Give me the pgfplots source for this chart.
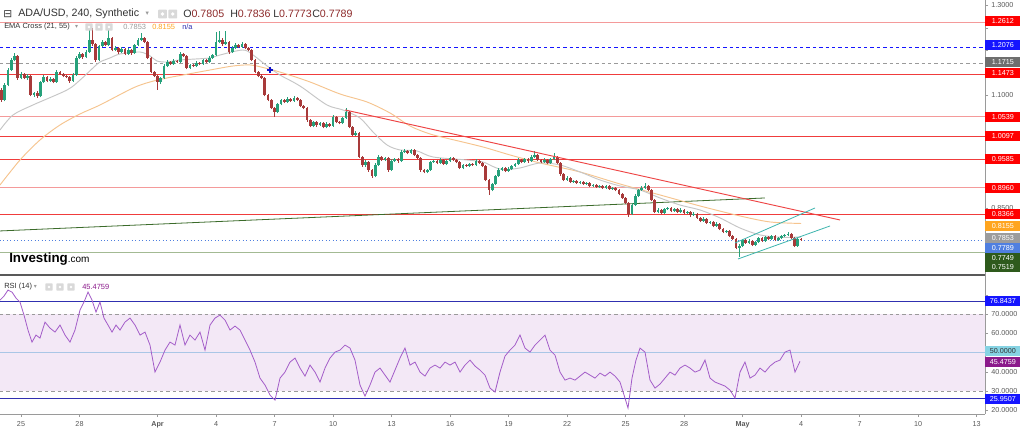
\documentclass[border=0pt]{standalone}
\usepackage{pgfplots}
\pgfplotsset{compat=1.18}
\usepackage{pgfplotstable}
\usepackage{fontspec}
\setmainfont{Liberation Sans}
\newfontfamily\dejavu{DejaVu Sans}
\definecolor{upc}{HTML}{26A17B}
\definecolor{dnc}{HTML}{A83A3A}
\definecolor{emaA}{HTML}{C6C6C6}
\definecolor{emaB}{HTML}{F6C48E}
\definecolor{lred}{HTML}{F03C3C}
\definecolor{lpink}{HTML}{F49A9A}
\definecolor{trendred}{HTML}{EE4444}
\definecolor{dgreen}{HTML}{3B6B2A}
\definecolor{chan}{HTML}{3DB5AE}
\definecolor{lgreen}{HTML}{A3BA93}
\definecolor{rsiline}{HTML}{A35CC8}
\definecolor{rsifill}{HTML}{F3E8F6}
\definecolor{rsiblue}{HTML}{3030B0}
\definecolor{midl}{HTML}{A9C6E6}
\definecolor{numred}{HTML}{8E2C2C}
\definecolor{axgray}{HTML}{9A9A9A}
\definecolor{tickgray}{HTML}{5A5A5A}
\definecolor{txt}{HTML}{333333}
\definecolor{iconbg}{HTML}{D9D9D9}
\definecolor{bxblue}{HTML}{1515FF}
\definecolor{bxgray}{HTML}{6E6E6E}
\definecolor{bxorange}{HTML}{FFA51F}
\definecolor{bxlgray}{HTML}{9C9C9C}
\definecolor{bxroyal}{HTML}{4F7FE0}
\definecolor{bxgreen}{HTML}{2E5A1C}
\definecolor{bxcyan}{HTML}{86D3E3}
\definecolor{bxpurple}{HTML}{8B1A8B}
\newcommand{\lab}{\fontsize{5.4}{6}\selectfont}
\newcommand{\ttl}{\fontsize{8}{9}\selectfont}
\newcommand{\sml}{\fontsize{5.6}{6.5}\selectfont}
\newcommand{\plab}[3]{\node[anchor=west, fill=#2, text=white, font=\lab, inner sep=0pt, minimum width=26.25pt, minimum height=7.6pt] at (axis cs:49.436,#1) {#3};}

\pgfplotstableread{
t o h l c
-1.000 1.1122 1.1160 1.0860 1.0900
-0.833 1.0900 1.1270 1.0870 1.1233
-0.667 1.1233 1.1600 1.1200 1.1566
-0.500 1.1566 1.1830 1.1540 1.1789
-0.333 1.1789 1.1950 1.1760 1.1878
-0.167 1.1878 1.1900 1.1350 1.1389
0.000 1.1389 1.1520 1.1360 1.1478
0.167 1.1478 1.1500 1.1360 1.1389
0.333 1.1389 1.1470 1.1350 1.1433
0.500 1.1433 1.1460 1.0980 1.1011
0.667 1.1011 1.1080 1.0970 1.1055
0.833 1.1055 1.1090 1.0950 1.0989
1.000 1.0989 1.1330 1.0960 1.1300
1.167 1.1300 1.1450 1.1270 1.1411
1.333 1.1411 1.1440 1.1290 1.1322
1.500 1.1322 1.1400 1.1300 1.1366
1.667 1.1366 1.1390 1.1270 1.1300
1.833 1.1300 1.1560 1.1280 1.1522
2.000 1.1522 1.1550 1.1450 1.1478
2.167 1.1478 1.1500 1.1400 1.1433
2.333 1.1433 1.1460 1.1380 1.1411
2.500 1.1411 1.1430 1.1280 1.1322
2.667 1.1322 1.1490 1.1300 1.1455
2.833 1.1455 1.1870 1.1430 1.1833
3.000 1.1833 1.1960 1.1800 1.1922
3.167 1.1922 1.1950 1.1820 1.1855
3.333 1.1855 1.2000 1.1830 1.1966
3.500 1.1966 1.2455 1.1940 1.2233
3.667 1.2233 1.2500 1.2110 1.2144
3.833 1.2144 1.2170 1.1750 1.1789
4.000 1.1789 1.2130 1.1760 1.2100
4.167 1.2100 1.2230 1.2070 1.2189
4.333 1.2189 1.2220 1.2090 1.2122
4.500 1.2122 1.2455 1.2100 1.2278
4.667 1.2278 1.2310 1.1980 1.2011
4.833 1.2011 1.2090 1.1980 1.2055
5.000 1.2055 1.2080 1.1930 1.1966
5.167 1.1966 1.2070 1.1940 1.2033
5.333 1.2033 1.2060 1.1890 1.1922
5.500 1.1922 1.2050 1.1900 1.2011
5.667 1.2011 1.2040 1.1910 1.1944
5.833 1.1944 1.2150 1.1920 1.2122
6.000 1.2122 1.2270 1.2100 1.2233
6.167 1.2233 1.2389 1.2200 1.2278
6.333 1.2278 1.2310 1.2160 1.2189
6.500 1.2189 1.2210 1.1800 1.1833
6.667 1.1833 1.1860 1.1490 1.1522
6.833 1.1522 1.1550 1.1400 1.1433
7.000 1.1433 1.1460 1.1122 1.1300
7.167 1.1300 1.1420 1.1250 1.1389
7.333 1.1389 1.1690 1.1360 1.1655
7.500 1.1655 1.1780 1.1630 1.1744
7.667 1.1744 1.1770 1.1670 1.1700
7.833 1.1700 1.1800 1.1680 1.1766
8.000 1.1766 1.1790 1.1720 1.1744
8.167 1.1744 1.1960 1.1720 1.1922
8.333 1.1922 1.1950 1.1850 1.1878
8.500 1.1878 1.1900 1.1580 1.1611
8.667 1.1611 1.1710 1.1590 1.1678
8.833 1.1678 1.1700 1.1630 1.1655
9.000 1.1655 1.1760 1.1630 1.1722
9.167 1.1722 1.1750 1.1670 1.1700
9.333 1.1700 1.1820 1.1680 1.1789
9.500 1.1789 1.1810 1.1720 1.1744
9.667 1.1744 1.1870 1.1720 1.1833
9.833 1.1833 1.1930 1.1810 1.1900
10.000 1.1900 1.2411 1.1880 1.2189
10.167 1.2189 1.2433 1.2160 1.2233
10.333 1.2233 1.2270 1.2110 1.2144
10.500 1.2144 1.2433 1.2120 1.2189
10.667 1.2189 1.2220 1.1930 1.1966
10.833 1.1966 1.2090 1.1940 1.2055
11.000 1.2055 1.2160 1.2030 1.2122
11.167 1.2122 1.2150 1.2050 1.2078
11.333 1.2078 1.2180 1.2050 1.2144
11.500 1.2144 1.2170 1.2030 1.2055
11.667 1.2055 1.2080 1.1980 1.2011
11.833 1.2011 1.2040 1.1760 1.1789
12.000 1.1789 1.1810 1.1490 1.1522
12.167 1.1522 1.1550 1.1400 1.1433
12.333 1.1433 1.1470 1.1360 1.1389
12.500 1.1389 1.1410 1.0980 1.1011
12.667 1.1011 1.1040 1.0870 1.0900
12.833 1.0900 1.0930 1.0690 1.0722
13.000 1.0722 1.0750 1.0522 1.0633
13.167 1.0633 1.0840 1.0600 1.0811
13.333 1.0811 1.0930 1.0780 1.0900
13.500 1.0900 1.0930 1.0830 1.0855
13.667 1.0855 1.0960 1.0830 1.0922
13.833 1.0922 1.0950 1.0850 1.0878
14.000 1.0878 1.0980 1.0850 1.0944
14.167 1.0944 1.0970 1.0870 1.0900
14.333 1.0900 1.0930 1.0740 1.0766
14.500 1.0766 1.0790 1.0690 1.0722
14.667 1.0722 1.0750 1.0420 1.0455
14.833 1.0455 1.0480 1.0290 1.0322
15.000 1.0322 1.0440 1.0290 1.0411
15.167 1.0411 1.0440 1.0310 1.0344
15.333 1.0344 1.0420 1.0320 1.0389
15.500 1.0389 1.0410 1.0270 1.0300
15.667 1.0300 1.0400 1.0270 1.0366
15.833 1.0366 1.0390 1.0290 1.0322
16.000 1.0322 1.0560 1.0300 1.0522
16.167 1.0522 1.0550 1.0380 1.0411
16.333 1.0411 1.0440 1.0360 1.0389
16.500 1.0389 1.0530 1.0360 1.0500
16.667 1.0500 1.0722 1.0480 1.0633
16.833 1.0633 1.0660 1.0270 1.0300
17.000 1.0300 1.0330 1.0090 1.0122
17.167 1.0122 1.0200 1.0090 1.0166
17.333 1.0166 1.0190 0.9600 0.9633
17.500 0.9633 0.9660 0.9420 0.9455
17.667 0.9455 0.9560 0.9420 0.9522
17.833 0.9522 0.9550 0.9310 0.9344
18.000 0.9344 0.9370 0.9166 0.9211
18.167 0.9211 0.9490 0.9180 0.9455
18.333 0.9455 0.9670 0.9430 0.9633
18.500 0.9633 0.9660 0.9540 0.9566
18.667 0.9566 0.9640 0.9540 0.9611
18.833 0.9611 0.9640 0.9310 0.9344
19.000 0.9344 0.9580 0.9320 0.9544
19.167 0.9544 0.9620 0.9520 0.9589
19.333 0.9589 0.9610 0.9510 0.9544
19.500 0.9544 0.9780 0.9520 0.9744
19.667 0.9744 0.9800 0.9720 0.9766
19.833 0.9766 0.9790 0.9690 0.9722
20.000 0.9722 0.9820 0.9700 0.9789
20.167 0.9789 0.9810 0.9650 0.9678
20.333 0.9678 0.9700 0.9580 0.9611
20.500 0.9611 0.9640 0.9310 0.9344
20.667 0.9344 0.9370 0.9270 0.9300
20.833 0.9300 0.9370 0.9270 0.9344
21.000 0.9344 0.9550 0.9320 0.9522
21.167 0.9522 0.9570 0.9500 0.9544
21.333 0.9544 0.9570 0.9470 0.9500
21.500 0.9500 0.9600 0.9480 0.9566
21.667 0.9566 0.9590 0.9450 0.9478
21.833 0.9478 0.9570 0.9450 0.9544
22.000 0.9544 0.9640 0.9520 0.9611
22.167 0.9611 0.9640 0.9540 0.9566
22.333 0.9566 0.9590 0.9490 0.9522
22.500 0.9522 0.9550 0.9360 0.9389
22.667 0.9389 0.9480 0.9360 0.9455
22.833 0.9455 0.9480 0.9410 0.9433
23.000 0.9433 0.9510 0.9410 0.9478
23.167 0.9478 0.9500 0.9430 0.9455
23.333 0.9455 0.9580 0.9430 0.9544
23.500 0.9544 0.9570 0.9470 0.9500
23.667 0.9500 0.9530 0.9410 0.9433
23.833 0.9433 0.9460 0.9090 0.9122
24.000 0.9122 0.9150 0.8789 0.8900
24.167 0.8900 0.9060 0.8870 0.9033
24.333 0.9033 0.9240 0.9010 0.9211
24.500 0.9211 0.9380 0.9190 0.9344
24.667 0.9344 0.9420 0.9320 0.9389
24.833 0.9389 0.9410 0.9290 0.9322
25.000 0.9322 0.9400 0.9300 0.9366
25.167 0.9366 0.9460 0.9340 0.9433
25.333 0.9433 0.9510 0.9410 0.9478
25.500 0.9478 0.9600 0.9450 0.9566
25.667 0.9566 0.9590 0.9490 0.9522
25.833 0.9522 0.9620 0.9500 0.9589
26.000 0.9589 0.9610 0.9510 0.9544
26.167 0.9544 0.9670 0.9520 0.9633
26.333 0.9633 0.9766 0.9610 0.9678
26.500 0.9678 0.9700 0.9540 0.9566
26.667 0.9566 0.9590 0.9490 0.9522
26.833 0.9522 0.9600 0.9500 0.9566
27.000 0.9566 0.9590 0.9470 0.9500
27.167 0.9500 0.9620 0.9480 0.9589
27.333 0.9589 0.9722 0.9560 0.9633
27.500 0.9633 0.9660 0.9470 0.9500
27.667 0.9500 0.9530 0.9220 0.9255
27.833 0.9255 0.9280 0.9090 0.9122
28.000 0.9122 0.9200 0.9100 0.9166
28.167 0.9166 0.9190 0.9050 0.9078
28.333 0.9078 0.9130 0.9050 0.9100
28.500 0.9100 0.9130 0.9030 0.9055
28.667 0.9055 0.9110 0.9030 0.9078
28.833 0.9078 0.9100 0.9010 0.9033
29.000 0.9033 0.9080 0.9010 0.9055
29.167 0.9055 0.9080 0.8960 0.8989
29.333 0.8989 0.9040 0.8960 0.9011
29.500 0.9011 0.9040 0.8940 0.8966
29.667 0.8966 0.9010 0.8940 0.8989
29.833 0.8989 0.9010 0.8920 0.8944
30.000 0.8944 0.9020 0.8920 0.8989
30.167 0.8989 0.9010 0.8900 0.8922
30.333 0.8922 0.8970 0.8900 0.8944
30.500 0.8944 0.8970 0.8870 0.8900
30.667 0.8900 0.8920 0.8780 0.8811
30.833 0.8811 0.8840 0.8700 0.8722
31.000 0.8722 0.8750 0.8580 0.8611
31.167 0.8611 0.8640 0.8300 0.8366
31.333 0.8366 0.8600 0.8340 0.8566
31.500 0.8566 0.8800 0.8540 0.8766
31.667 0.8766 0.8930 0.8740 0.8900
31.833 0.8900 0.8980 0.8880 0.8944
32.000 0.8944 0.9055 0.8920 0.8989
32.167 0.8989 0.9010 0.8870 0.8900
32.333 0.8900 0.8920 0.8650 0.8678
32.500 0.8678 0.8700 0.8380 0.8411
32.667 0.8411 0.8490 0.8380 0.8455
32.833 0.8455 0.8480 0.8360 0.8389
33.000 0.8389 0.8510 0.8360 0.8478
33.167 0.8478 0.8530 0.8450 0.8500
33.333 0.8500 0.8520 0.8400 0.8433
33.500 0.8433 0.8510 0.8410 0.8478
33.667 0.8478 0.8500 0.8380 0.8411
33.833 0.8411 0.8490 0.8390 0.8455
34.000 0.8455 0.8480 0.8360 0.8389
34.167 0.8389 0.8440 0.8360 0.8411
34.333 0.8411 0.8440 0.8310 0.8344
34.500 0.8344 0.8400 0.8320 0.8366
34.667 0.8366 0.8390 0.8250 0.8278
34.833 0.8278 0.8300 0.8180 0.8211
35.000 0.8211 0.8290 0.8190 0.8255
35.167 0.8255 0.8280 0.8140 0.8166
35.333 0.8166 0.8220 0.8140 0.8189
35.500 0.8189 0.8210 0.8070 0.8100
35.667 0.8100 0.8180 0.8080 0.8144
35.833 0.8144 0.8170 0.8000 0.8033
36.000 0.8033 0.8060 0.7940 0.7966
36.167 0.7966 0.8020 0.7940 0.7989
36.333 0.7989 0.8010 0.7850 0.7878
36.500 0.7878 0.7900 0.7780 0.7811
36.667 0.7811 0.7840 0.7580 0.7611
36.833 0.7611 0.7690 0.7411 0.7655
37.000 0.7655 0.7820 0.7630 0.7789
37.167 0.7789 0.7810 0.7700 0.7722
37.333 0.7722 0.7800 0.7700 0.7766
37.500 0.7766 0.7790 0.7650 0.7678
37.667 0.7678 0.7770 0.7650 0.7744
37.833 0.7744 0.7860 0.7720 0.7833
38.000 0.7833 0.7860 0.7740 0.7766
38.167 0.7766 0.7880 0.7740 0.7855
38.333 0.7855 0.7880 0.7790 0.7811
38.500 0.7811 0.7900 0.7790 0.7878
38.667 0.7878 0.7900 0.7760 0.7789
38.833 0.7789 0.7860 0.7770 0.7833
39.000 0.7833 0.7900 0.7810 0.7878
39.167 0.7878 0.7930 0.7850 0.7900
39.333 0.7900 0.7966 0.7880 0.7922
39.500 0.7922 0.7950 0.7810 0.7833
39.667 0.7833 0.7860 0.7630 0.7655
39.833 0.7655 0.7830 0.7640 0.7805
40.000 0.7805 0.7836 0.7773 0.7789
}\candles

\pgfplotstableread{
t v
-1.077 77.27
-0.872 79.35
-0.667 82.47
-0.462 81.43
-0.256 78.31
-0.051 76.23
0.154 69.48
0.359 61.69
0.564 55.45
0.769 59.09
0.974 57.53
1.231 65.84
1.487 62.73
1.744 60.65
2.000 64.29
2.256 59.09
2.513 55.45
2.769 61.69
3.026 72.08
3.231 76.23
3.436 81.43
3.641 77.27
3.846 71.04
4.051 76.23
4.256 67.92
4.462 64.29
4.667 60.65
4.872 64.29
5.077 61.69
5.333 65.84
5.590 67.92
5.846 64.29
6.103 59.09
6.359 60.65
6.615 53.90
6.872 39.87
7.128 45.06
7.385 51.30
7.641 55.45
7.897 53.90
8.154 64.29
8.410 53.90
8.667 59.09
8.923 56.49
9.179 60.65
9.436 51.30
9.692 64.29
9.949 67.92
10.205 69.48
10.462 66.88
10.718 61.69
10.974 63.77
11.231 61.69
11.487 56.49
11.744 51.30
12.000 45.06
12.256 36.75
12.513 33.12
12.769 27.92
13.026 25.32
13.282 36.75
13.538 39.87
13.795 45.06
14.051 47.14
14.308 41.95
14.564 37.79
14.821 43.51
15.077 39.87
15.333 34.68
15.590 41.95
15.846 47.14
16.103 50.26
16.359 51.30
16.615 53.90
16.872 52.34
17.128 46.10
17.385 33.12
17.641 27.40
17.897 33.12
18.154 39.87
18.410 41.95
18.667 38.31
18.923 34.68
19.179 40.91
19.436 47.14
19.692 52.34
19.949 43.51
20.205 45.06
20.462 39.87
20.718 37.79
20.974 41.95
21.231 43.51
21.487 41.95
21.744 45.06
22.000 43.51
22.256 45.06
22.513 39.87
22.769 43.51
23.026 46.10
23.282 42.99
23.538 40.91
23.795 38.31
24.051 31.56
24.308 29.48
24.564 39.87
24.821 48.18
25.077 51.30
25.333 53.90
25.590 59.09
25.846 52.34
26.103 50.26
26.359 53.90
26.615 56.49
26.872 59.09
27.128 51.30
27.385 48.70
27.641 39.87
27.897 35.71
28.154 36.75
28.410 35.71
28.667 37.79
28.923 39.87
29.179 38.31
29.436 36.75
29.692 39.35
29.949 37.79
30.205 39.87
30.462 37.79
30.718 34.68
30.974 26.36
31.128 21.17
31.333 36.75
31.538 46.10
31.744 52.34
32.000 50.26
32.256 35.71
32.513 31.56
32.769 33.64
33.026 36.75
33.282 39.87
33.538 38.31
33.795 41.95
34.051 43.51
34.308 41.95
34.564 39.87
34.821 40.91
35.077 46.10
35.333 36.75
35.590 34.68
35.846 33.64
36.103 32.60
36.359 30.52
36.615 26.36
36.872 39.87
37.128 45.06
37.385 36.75
37.641 38.31
37.897 41.95
38.154 39.87
38.410 42.99
38.667 45.06
38.923 46.10
39.179 50.26
39.436 51.30
39.692 39.87
39.949 45.48
}\rsidata

\begin{document}
\begin{tikzpicture}
\path[use as bounding box, fill=white] (0pt,0pt) rectangle (768pt,321pt);

% ---------------- price panel ----------------
\begin{axis}[
  at={(0pt,114.75pt)}, anchor=south west,
  scale only axis, width=738.75pt, height=206.25pt,
  xmin=-1.077, xmax=49.436, ymin=0.7010, ymax=1.3122,
  axis x line=none, axis y line*=right,
  axis line style={axgray, line width=0.5pt},
  ytick={0.75,0.80,0.85,0.90,0.95,1.00,1.05,1.10,1.15,1.20,1.25,1.30},
  yticklabels={,,0.8500,,,,,1.1000,,,,1.3000},
  tick align=outside, major tick length=2.25pt,
  tick style={axgray, line width=0.4pt},
  yticklabel style={font=\lab, text=tickgray, xshift=-1pt},
  clip=false,
]
% horizontal levels
\addplot[lpink, line width=0.8pt] coordinates {(-1.077,1.2612) (49.436,1.2612)};
\addplot[bxblue, line width=0.6pt, dash pattern=on 2.6pt off 2.2pt] coordinates {(-1.077,1.2076) (49.436,1.2076)};
\addplot[axgray, line width=0.6pt, dash pattern=on 2.6pt off 2.2pt] coordinates {(-1.077,1.1715) (49.436,1.1715)};
\addplot[lred, line width=0.7pt] coordinates {(-1.077,1.1473) (49.436,1.1473)};
\addplot[lpink, line width=0.8pt] coordinates {(-1.077,1.0539) (49.436,1.0539)};
\addplot[lred, line width=0.7pt] coordinates {(-1.077,1.0097) (49.436,1.0097)};
\addplot[lred, line width=0.7pt] coordinates {(-1.077,0.9585) (49.436,0.9585)};
\addplot[lpink, line width=0.8pt] coordinates {(-1.077,0.8960) (49.436,0.8960)};
\addplot[lred, line width=0.6pt] coordinates {(-1.077,0.8366) (49.436,0.8366)};
\addplot[bxroyal, line width=0.6pt, dotted] coordinates {(-1.077,0.7789) (49.436,0.7789)};
\addplot[lgreen, line width=0.8pt] coordinates {(-1.077,0.7519) (49.436,0.7519)};
% long green trend line
\addplot[dgreen, line width=0.6pt] coordinates {(-1.077,0.7989) (38.15,0.8722)};
% EMA lines
\addplot[emaB, line width=0.7pt, smooth] coordinates {
(-1.077,0.9011) (-0.051,0.9566) (0.974,1.0011) (2.000,1.0344) (3.026,1.0589) (4.051,1.0789)
(5.744,1.1166) (6.615,1.1300) (7.487,1.1389) (8.308,1.1455) (9.692,1.1566) (10.872,1.1655)
(11.744,1.1678) (12.513,1.1611) (13.436,1.1500) (14.821,1.1300) (16.359,1.1033) (17.744,1.0855)
(18.923,1.0611) (19.949,1.0322) (20.974,1.0144) (22.000,1.0033) (23.692,0.9855) (25.077,0.9678)
(26.615,0.9500) (28.667,0.9300) (30.718,0.9033) (32.769,0.8789) (34.821,0.8544) (36.872,0.8322)
(38.410,0.8189) (40.000,0.8155)};
\addplot[emaA, line width=0.7pt, smooth] coordinates {
(-1.077,1.0233) (-0.41,1.0566) (0.615,1.0789) (2.36,1.1122) (3.03,1.1344) (3.69,1.1611) (4.05,1.1744)
(4.56,1.1833) (5.08,1.1922) (6.10,1.1966) (6.62,1.1878) (6.97,1.1766) (7.5,1.1744) (8.15,1.1789)
(9.69,1.1833) (10.21,1.1900) (11.38,1.2011) (11.90,1.1900) (12.62,1.1655) (13.28,1.1455)
(13.95,1.1300) (14.46,1.1166) (15.69,1.0789) (16.51,1.0677) (17.38,1.0500) (18.05,1.0189)
(18.77,0.9900) (19.44,0.9789) (20.31,0.9766) (21.13,0.9633) (22.87,0.9566) (23.69,0.9522)
(24.21,0.9420) (24.72,0.9350) (25.59,0.9389) (26.62,0.9500) (27.64,0.9455) (28.67,0.9300)
(29.69,0.9122) (30.72,0.8989) (31.74,0.8900) (32.77,0.8722) (33.79,0.8566) (34.82,0.8455)
(35.85,0.8278) (36.87,0.8055) (37.90,0.7900) (38.92,0.7850) (40.0,0.7853)};
% candles: wicks
\addplot[draw=none, mark=none, error bars/.cd, y dir=plus, y explicit, error mark=none,
  error bar style={draw=upc, line width=0.6pt}]
  table[x=t, y=l, y error plus expr={(\thisrow{c}>=\thisrow{o})*(\thisrow{h}-\thisrow{l})}] {\candles};
\addplot[draw=none, mark=none, error bars/.cd, y dir=plus, y explicit, error mark=none,
  error bar style={draw=dnc, line width=0.6pt}]
  table[x=t, y=l, y error plus expr={(\thisrow{c}<\thisrow{o})*(\thisrow{h}-\thisrow{l})}] {\candles};
% candles: bodies
\addplot[draw=none, mark=none, error bars/.cd, y dir=plus, y explicit, error mark=none,
  error bar style={draw=upc, line width=1.9pt}]
  table[x=t, y=o, y error plus expr={(\thisrow{c}>=\thisrow{o})*(\thisrow{c}-\thisrow{o})}] {\candles};
\addplot[draw=none, mark=none, error bars/.cd, y dir=plus, y explicit, error mark=none,
  error bar style={draw=dnc, line width=1.9pt}]
  table[x=t, y=c, y error plus expr={(\thisrow{c}<\thisrow{o})*(\thisrow{o}-\thisrow{c})}] {\candles};
% trend lines
\addplot[trendred, line width=0.7pt] coordinates {(16.62,1.0678) (42.0,0.8233)};
\addplot[chan, line width=0.6pt] coordinates {(36.77,0.7366) (41.49,0.8100)};
\addplot[chan, line width=0.6pt] coordinates {(36.62,0.7722) (40.72,0.8500)};
% EMA cross marker
\addplot[only marks, mark=+, mark size=2.4pt, bxblue!80!black, line width=1.1pt] coordinates {(12.77,1.1566)};
% right labels
\plab{1.2655}{red}{1.2612}
\plab{1.2122}{bxblue}{1.2076}
\plab{1.1744}{bxgray}{1.1715}
\plab{1.1500}{red}{1.1473}
\plab{1.0522}{red}{1.0539}
\plab{1.0100}{red}{1.0097}
\plab{0.9589}{red}{0.9585}
\plab{0.8944}{red}{0.8960}
\plab{0.8366}{red}{0.8366}
\plab{0.8100}{bxorange}{0.8155}
\plab{0.7833}{bxlgray}{0.7853}
\plab{0.7611}{bxroyal}{0.7789}
\plab{0.7389}{bxgreen}{0.7749}
\plab{0.7189}{bxgreen}{0.7519}
\end{axis}

% ---------------- RSI panel ----------------
\begin{axis}[
  at={(0pt,10.5pt)}, anchor=south west,
  scale only axis, width=738.75pt, height=104.25pt,
  xmin=-1.077, xmax=49.436, ymin=18.1, ymax=90.3,
  axis x line*=bottom, axis y line*=right,
  axis line style={axgray, line width=0.5pt},
  ytick={20,30,40,50,60,70,80},
  yticklabels={20.0000,30.0000,40.0000,,60.0000,70.0000,},
  xtick={0,3,7,10,13,16,19,22,25,28,31,34,37,40,43,46,49},
  xticklabels={25,28,\textbf{Apr},4,7,10,13,16,19,22,25,28,\textbf{May},4,7,10,13},
  tick align=outside, major tick length=2.25pt,
  tick style={axgray, line width=0.4pt},
  xticklabel style={font=\lab, text=tickgray},
  yticklabel style={font=\lab, text=tickgray, xshift=-1pt},
  clip=false,
]
\addplot[fill=rsifill, draw=none] coordinates {(-1.077,30) (49.436,30) (49.436,70) (-1.077,70)};
\addplot[axgray, line width=0.6pt, dash pattern=on 2.6pt off 2.2pt] coordinates {(-1.077,70) (49.436,70)};
\addplot[axgray, line width=0.6pt, dash pattern=on 2.6pt off 2.2pt] coordinates {(-1.077,30) (49.436,30)};
\addplot[midl, line width=0.7pt] coordinates {(-1.077,50) (49.436,50)};
\addplot[rsiblue, line width=0.6pt] coordinates {(-1.077,76.8437) (49.436,76.8437)};
\addplot[rsiblue, line width=0.6pt] coordinates {(-1.077,25.9507) (49.436,25.9507)};
\addplot[rsiline, line width=0.6pt] table[x=t, y=v] {\rsidata};
\node[anchor=west, fill=bxblue, text=white, font=\lab, inner sep=0pt, minimum width=26.25pt, minimum height=7.6pt] at (axis cs:49.436,76.75) {76.8437};
\node[anchor=west, fill=bxcyan, text=txt, font=\lab, inner sep=0pt, minimum width=26.25pt, minimum height=7.6pt] at (axis cs:49.436,50.6) {50.0000};
\node[anchor=west, fill=bxpurple, text=white, font=\lab, inner sep=0pt, minimum width=26.25pt, minimum height=7.6pt] at (axis cs:49.436,45.0) {45.4759};
\node[anchor=west, fill=bxblue, text=white, font=\lab, inner sep=0pt, minimum width=26.25pt, minimum height=7.6pt] at (axis cs:49.436,25.84) {25.9507};
\end{axis}

% separator between panels
\draw[black!65, line width=0.9pt] (0pt,114.75pt) -- (738.75pt,114.75pt);

% ---------------- header texts ----------------
\node[anchor=center, inner sep=0pt, text=txt] at (5.8pt,310.5pt) {\dejavu\fontsize{8}{9}\selectfont ⊟};
\node[anchor=west, inner sep=0pt, text=txt] at (13.5pt,310.5pt) {\ttl ADA/USD, 240, Synthetic};
\node[anchor=center, inner sep=0pt, text=axgray] at (110.5pt,310.5pt) {\dejavu\fontsize{5}{6}\selectfont ▾};
\node[fill=iconbg, minimum size=6.6pt, inner sep=0pt, rounded corners=0.6pt] at (121.9pt,310.5pt) {};
\fill[white] (121.9pt,310.5pt) circle (1.4pt);
\node[fill=iconbg, minimum size=6.6pt, inner sep=0pt, rounded corners=0.6pt] at (129.6pt,310.5pt) {};
\fill[white] (129.6pt,310.5pt) circle (1.4pt);
\node[anchor=west, inner sep=0pt] at (137.25pt,310.5pt) {\ttl\textcolor{txt}{O}\textcolor{numred}{0.7805}};
\node[anchor=west, inner sep=0pt] at (172.5pt,310.5pt) {\ttl\textcolor{txt}{H}\textcolor{numred}{0.7836}};
\node[anchor=west, inner sep=0pt] at (204.75pt,310.5pt) {\ttl\textcolor{txt}{L}\textcolor{numred}{0.7773}};
\node[anchor=west, inner sep=0pt] at (234pt,310.5pt) {\ttl\textcolor{txt}{C}\textcolor{numred}{0.7789}};

\node[anchor=west, inner sep=0pt, text=txt] at (3pt,300.75pt) {\sml EMA Cross (21, 55)};
\node[anchor=center, inner sep=0pt, text=axgray] at (57.5pt,300.75pt) {\dejavu\fontsize{4.5}{5}\selectfont ▾};
\foreach \ix in {66.75,74.25,81.75}{
  \node[fill=iconbg, minimum size=5.4pt, inner sep=0pt, rounded corners=0.5pt] at (\ix pt,300.75pt) {};
  \fill[white] (\ix pt,300.75pt) circle (1.1pt);
}
\node[anchor=west, inner sep=0pt, text=bxlgray] at (92.25pt,300.75pt) {\sml 0.7853};
\node[anchor=west, inner sep=0pt, text=bxorange] at (114pt,300.75pt) {\sml 0.8155};
\node[anchor=west, inner sep=0pt, text=rsiblue] at (136.5pt,300.75pt) {\sml n/a};

\node[anchor=west, inner sep=0pt, text=black] at (6.75pt,126.5pt) {\fontsize{10}{11}\selectfont\bfseries Investing\fontsize{7.5}{8}\selectfont\mdseries .com};

\node[anchor=west, inner sep=0pt, text=txt] at (3pt,105.75pt) {\sml RSI (14)};
\node[anchor=center, inner sep=0pt, text=axgray] at (26.5pt,105.75pt) {\dejavu\fontsize{4.5}{5}\selectfont ▾};
\foreach \ix in {36.75,45.0,53.25}{
  \node[fill=iconbg, minimum size=5.4pt, inner sep=0pt, rounded corners=0.5pt] at (\ix pt,105.75pt) {};
  \fill[white] (\ix pt,105.75pt) circle (1.1pt);
}
\node[anchor=west, inner sep=0pt, text=bxpurple] at (61.5pt,105.75pt) {\sml 45.4759};
\end{tikzpicture}
\end{document}
